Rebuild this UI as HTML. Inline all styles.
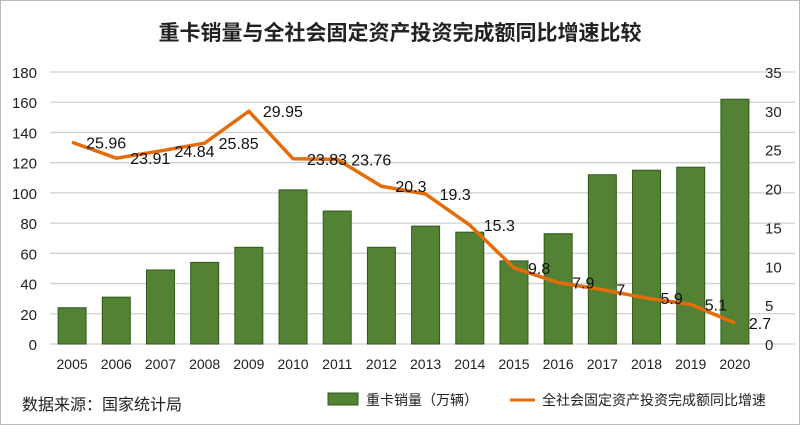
<!DOCTYPE html>
<html><head><meta charset="utf-8"><style>
body{margin:0;background:#fff;}
svg{display:block;font-family:"Liberation Sans","Noto Sans CJK SC",sans-serif;}
</style></head><body>
<svg id="chart" width="800" height="425" viewBox="0 0 800 425">
<rect x="0.5" y="0.5" width="799" height="424" fill="#fff" stroke="#bbb"/>
<text x="400" y="40" text-anchor="middle" font-size="21" font-weight="bold" fill="#222">重卡销量与全社会固定资产投资完成额同比增速比较</text>
<g id="grid"></g>
<g id="bars"></g>
<g id="line"></g>
<g id="axes"></g>
<text x="22" y="410" font-size="16" fill="#222">数据来源：国家统计局</text>
<g>
<g>
<rect x="328" y="393" width="30" height="12" fill="#548235" stroke="#2f5a1a"/>
<text x="366" y="405" font-size="14" fill="#222">重卡销量（万辆）</text></g>
<g>
<line x1="510" y1="400" x2="535" y2="400" stroke="#e46c0a" stroke-width="3"/>
<text x="542" y="405" font-size="14" fill="#222">全社会固定资产投资完成额同比增速</text></g>
</g>
</svg>
<script>
const years=["2005","2006","2007","2008","2009","2010","2011","2012","2013","2014","2015","2016","2017","2018","2019","2020"];
const sales=[24,31,49,54,64,102,88,64,78,74,55,73,112,115,117,162];
const growth=[25.96,23.91,24.84,25.85,29.95,23.83,23.76,20.3,19.3,15.3,9.8,7.9,7,5.9,5.1,2.7];
const leftTicks=[0,20,40,60,80,100,120,140,160,180];
const rightTicks=[0,5,10,15,20,25,30,35];
const NS="http://www.w3.org/2000/svg";
const x0=50,x1=757,yBase=344,yTop=72;
const step=(x1-x0)/years.length;
const xc=i=>x0+step*(i+0.5);
const yL=v=>yBase-(v/180)*(yBase-yTop);
const yR=v=>yBase-(v/35)*(yBase-yTop);
function mk(tag,attrs,parent){const e=document.createElementNS(NS,tag);for(const k in attrs)e.setAttribute(k,attrs[k]);parent.appendChild(e);return e;}
const grid=document.getElementById('grid'),axes=document.getElementById('axes'),bars=document.getElementById('bars'),line=document.getElementById('line');
leftTicks.forEach(t=>{
 const l=mk('line',{x1:x0,x2:795,y1:yL(t),y2:yL(t),stroke:'#d0d0d0','stroke-width':1.3},grid);
 
 
 const tx=mk('text',{x:37,y:yL(t)+6,'text-anchor':'end','font-size':15,fill:'#222'},axes);
 tx.textContent=t;
 
 
});
rightTicks.forEach(t=>{
 const tx=mk('text',{x:765,y:yR(t)+6,'font-size':15,fill:'#222'},axes);
 tx.textContent=t;
 
 
});
years.forEach((y,i)=>{
 const tx=mk('text',{x:xc(i),y:369,'text-anchor':'middle','font-size':14,fill:'#222'},axes);
 tx.textContent=y;
 
 
});
sales.forEach((v,i)=>{
 const r=mk('rect',{x:xc(i)-14,y:yL(v),width:28,height:yBase-yL(v),fill:'#548235',stroke:'#2f5a1a','stroke-width':1},bars);
 
 
});
const pts=growth.map((v,i)=>xc(i)+','+yR(v)).join(' ');
const pl=mk('polyline',{points:pts,fill:'none',stroke:'#e46c0a','stroke-width':3.5,'stroke-linejoin':'round'},line);


growth.forEach((v,i)=>{
 const tx=mk('text',{x:xc(i)+14,y:yR(v)+6,'font-size':16,fill:'#111'},line);
 tx.textContent=v;
 
 
});
</script>
</body></html>
